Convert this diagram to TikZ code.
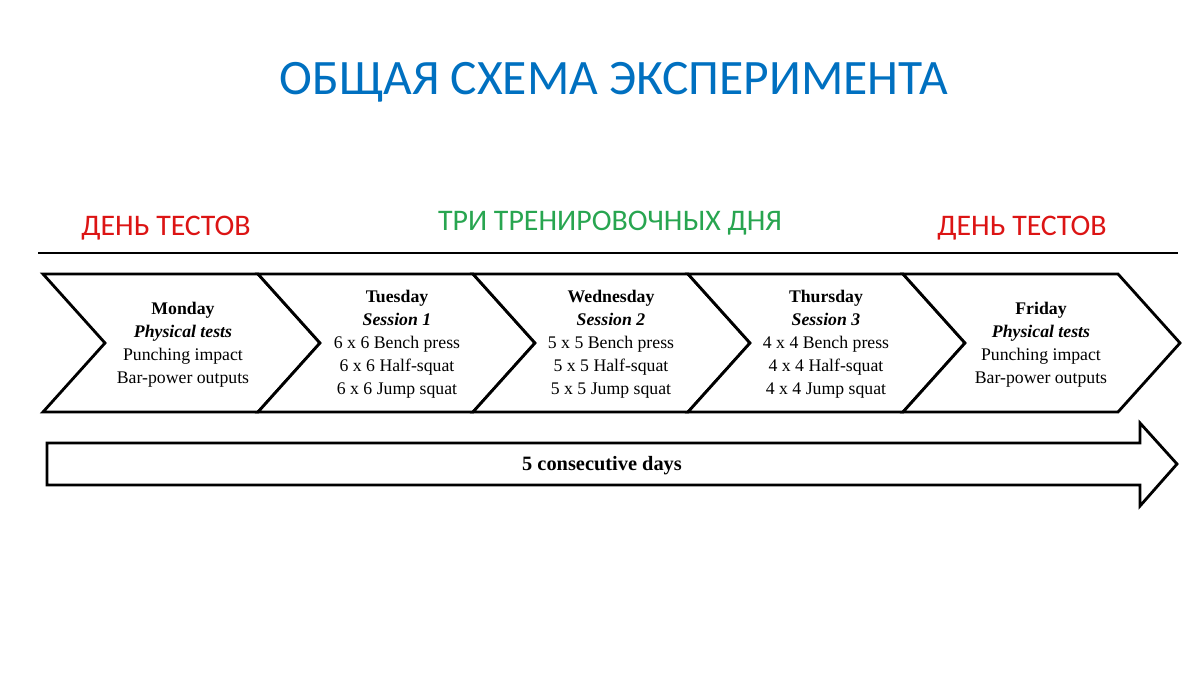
\documentclass[tikz,border=0pt]{standalone}
\usepackage{fontspec}
\setmainfont{Liberation Serif}
\newfontfamily\headfont{Carlito}
\usetikzlibrary{positioning}

\definecolor{titleblue}{RGB}{0,112,192}
\definecolor{testred}{RGB}{220,20,20}
\definecolor{traingreen}{RGB}{40,165,80}

\begin{document}
\begin{tikzpicture}[
    x=0.02cm, y=-0.02cm,
    chevron/.style={draw, line width=1.6pt, fill=white, line join=miter},
    daytext/.style={align=center, font=\fontsize{10.1}{13.1}\selectfont, inner sep=0pt},
    heading/.style={font=\headfont\fontsize{17}{20}\selectfont, inner sep=0pt}
]
\useasboundingbox (0,0) rectangle (1200,675);

% Title
\node[font=\headfont\fontsize{28.2}{32}\selectfont, text=titleblue] (title) at (614,82) {ОБЩАЯ СХЕМА ЭКСПЕРИМЕНТА};

% Headings over the days
\node[heading, text=testred] (testleft) at (166,228) {ДЕНЬ ТЕСТОВ};
\node[heading, text=traingreen] (training) at (610,223) {ТРИ ТРЕНИРОВОЧНЫХ ДНЯ};
\node[heading, text=testred] (testright) at (1022,228) {ДЕНЬ ТЕСТОВ};
\draw[line width=1pt] (38,253) -- (1178,253);

% Day chevrons
\foreach \xo in {43,258,473,688,903}
  \draw[chevron] (\xo,274) -- ++(215,0) -- ++(62,69) -- ++(-62,69)
    -- ++(-215,0) -- ++(62,-69) -- cycle;

\node[daytext] (monday) at (183,345) {\textbf{Monday}\\\textbf{\textit{Physical tests}}\\Punching impact\\Bar-power outputs};
\node[daytext] (tuesday) at (397,344) {\textbf{Tuesday}\\\textbf{\textit{Session 1}}\\6 x 6 Bench press\\6 x 6 Half-squat\\6 x 6 Jump squat};
\node[daytext] (wednesday) at (611,344) {\textbf{Wednesday}\\\textbf{\textit{Session 2}}\\5 x 5 Bench press\\5 x 5 Half-squat\\5 x 5 Jump squat};
\node[daytext] (thursday) at (826,344) {\textbf{Thursday}\\\textbf{\textit{Session 3}}\\4 x 4 Bench press\\4 x 4 Half-squat\\4 x 4 Jump squat};
\node[daytext] (friday) at (1041,345) {\textbf{Friday}\\\textbf{\textit{Physical tests}}\\Punching impact\\Bar-power outputs};

% Timeline arrow
\draw[chevron] (47,443) -- (1140,443) -- (1140,423) -- (1177,464) -- (1140,506)
  -- (1140,485) -- (47,485) -- cycle;
\node[daytext, font=\bfseries\fontsize{11.6}{13}\selectfont] (days) at (602,466) {5 consecutive days};

\end{tikzpicture}
\end{document}
